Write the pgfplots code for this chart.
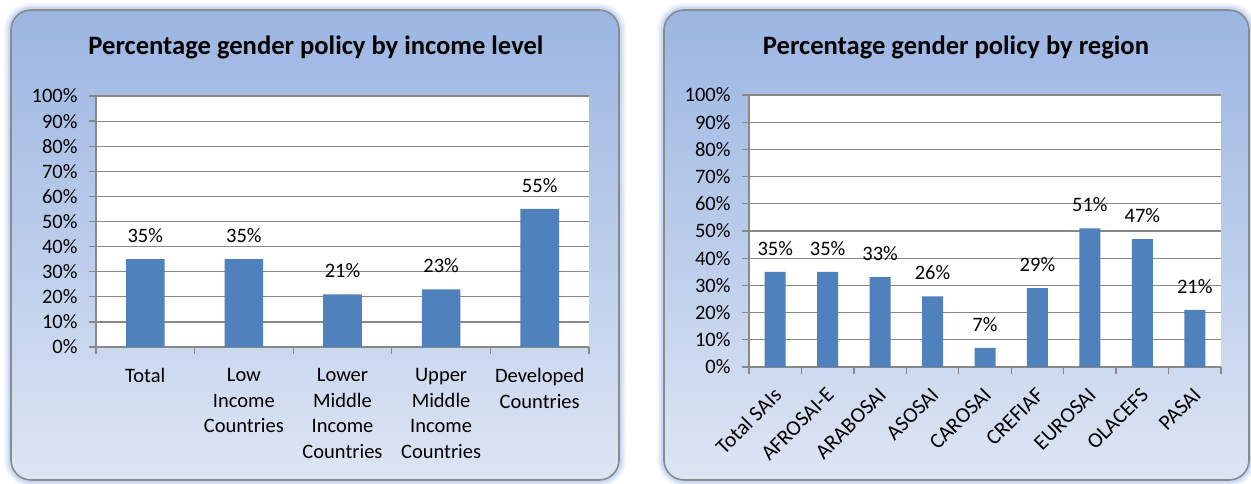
\documentclass[border=0pt]{standalone}
\usepackage{fontspec}
\setmainfont{Carlito}
\usepackage{pgfplots}
\pgfplotsset{compat=1.18}
\definecolor{barblue}{HTML}{4F81BD}
\definecolor{gridgray}{HTML}{888888}
\definecolor{bgtop}{HTML}{9BB5E2}
\definecolor{bgbot}{HTML}{DDE5F3}
\definecolor{bordergray}{HTML}{8A8A8A}
\definecolor{glow}{HTML}{A9C3EE}
\pgfplotsset{
  panel/.style={
    scale only axis,
    anchor=south west,
    ymin=0, ymax=100,
    ytick={0,10,...,100},
    yticklabels={0\%,10\%,20\%,30\%,40\%,50\%,60\%,70\%,80\%,90\%,100\%},
    axis x line*=bottom, axis y line*=left,
    axis line style={-, draw=gridgray, line width=1.3pt},
    axis background/.style={fill=white},
    ymajorgrids, grid style={draw=gridgray, line width=1.2pt},
    tick align=outside,
    major tick length=7pt, minor tick length=7pt,
    tick style={draw=gridgray, line width=1.3pt},
    major x tick style={draw=none},
    xtick=data,
    /pgf/number format/assume math mode=true,
    tick label style={font=\fontsize{20.5}{25.5}\selectfont, text=black},
    y tick label style={xshift=-8pt},
    ybar, bar shift=0pt,
    every node near coord/.style={font=\fontsize{20.5}{25}\selectfont, text=black, yshift=13pt},
    nodes near coords={\pgfmathprintnumber{\pgfplotspointmeta}\%},
  }
}
\begin{document}
\begin{tikzpicture}[x=1pt,y=1pt]
\useasboundingbox (0,0) rectangle (1251,483);
% panels
\foreach \xa/\xb in {11/619, 664/1249}{
  \foreach \w/\o in {14/0.15, 10/0.25, 6/0.4}{
    \draw[glow, line width=\w pt, opacity=\o, rounded corners=20pt] (\xa,3) rectangle (\xb,473);
  }
  \shade[top color=bgtop, bottom color=bgbot, rounded corners=20pt] (\xa,3) rectangle (\xb,473);
  \draw[bordergray, line width=1.6pt, rounded corners=20pt] (\xa,3) rectangle (\xb,473);
}
\node[font=\fontsize{26.6}{30}\selectfont\bfseries, anchor=base] at (316,428) {Percentage gender policy by income level};
\node[font=\fontsize{26.6}{30}\selectfont\bfseries, anchor=base] at (956,428) {Percentage gender policy by region};

\begin{axis}[panel,
  at={(96pt,136pt)}, width=493pt, height=251pt,
  xmin=-0.5, xmax=4.5, bar width=38.6pt,
  minor xtick={-0.5,0.5,...,4.5},
  xticklabels={Total, Low\\Income\\Countries, Lower\\Middle\\Income\\Countries, Upper\\Middle\\Income\\Countries, Developed\\Countries},
  x tick label style={align=center, anchor=north, yshift=-11pt},
]
\addplot[fill=barblue, draw=none] coordinates {(0,35) (1,35) (2,21) (3,23) (4,55)};
\end{axis}

\begin{axis}[panel,
  at={(749pt,116pt)}, width=472pt, height=272pt,
  xmin=-0.5, xmax=8.5, bar width=21pt,
  minor xtick={-0.5,0.5,...,8.5},
  xticklabels={Total SAIs, AFROSAI-E, ARABOSAI, ASOSAI, CAROSAI, CREFIAF, EUROSAI, OLACEFS, PASAI},
  x tick label style={font=\fontsize{21.5}{26}\selectfont, xshift=5pt, yshift=-15pt, rotate=45, anchor=east},
]
\addplot[fill=barblue, draw=none] coordinates {(0,35) (1,35) (2,33) (3,26) (4,7) (5,29) (6,51) (7,47) (8,21)};
\end{axis}
\end{tikzpicture}
\end{document}
